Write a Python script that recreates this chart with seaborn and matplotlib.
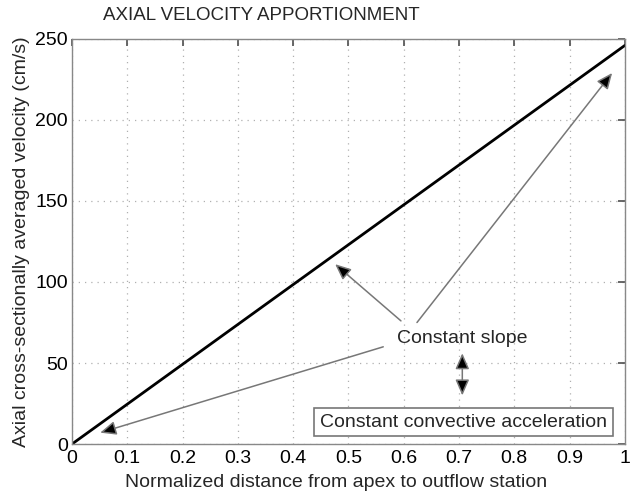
import matplotlib
matplotlib.use("Agg")
import matplotlib.pyplot as plt
import seaborn as sns
import pandas as pd

x_vals = [0.0, 1.0]
y_vals = [0.0, 246.0]
x_ticks = [0, 0.1, 0.2, 0.3, 0.4, 0.5, 0.6, 0.7, 0.8, 0.9, 1]
x_tick_labels = ["0", "0.1", "0.2", "0.3", "0.4", "0.5", "0.6", "0.7", "0.8", "0.9", "1"]
y_ticks = [0, 50, 100, 150, 200, 250]

sns.set_theme(style="white")
plt.rcParams['font.family'] = ['Liberation Sans', 'DejaVu Sans']

fig = plt.figure(figsize=(6.35, 4.97), dpi=100)
ax = fig.add_axes([0.1134, 0.1066, 0.8706, 0.815])

df = pd.DataFrame({"x": x_vals, "y": y_vals})
sns.lineplot(data=df, x="x", y="y", ax=ax, color="black", linewidth=2)

ax.set_xlim(0, 1)
ax.set_ylim(0, 250)
ax.set_xticks(x_ticks)
ax.set_xticklabels(x_tick_labels)
ax.set_yticks(y_ticks)
ax.grid(True, linestyle=(0, (1, 4)), color="#b0b0b0", linewidth=0.9)
for s in ax.spines.values():
    s.set_color("#888888")
    s.set_linewidth(1.0)
ax.tick_params(direction="in", length=5, color="#555555", top=True, right=True,
               labelsize=14, labelcolor="black")
ax.tick_params(axis="x", pad=4)
ax.tick_params(axis="y", pad=3)
ax.set_xlabel("Normalized distance from apex to outflow station", fontsize=14, labelpad=0)
ax.xaxis.set_label_coords(0.478, -0.075)
ax.set_ylabel("Axial cross-sectionally averaged velocity (cm/s)", fontsize=14, labelpad=4)
fig.text(261 / 635, 1 - 15 / 497, "AXIAL VELOCITY APPORTIONMENT", fontsize=13.5,
         ha="center", va="center")

arrow_kw = dict(arrowstyle="-|>,head_length=0.8,head_width=0.35", color="#777777",
                lw=1.1, shrinkA=0, shrinkB=0)
tips = [(0.051, 7), (0.476, 111), (0.977, 229)]
tails = [(0.563, 60), (0.595, 76), (0.624, 75)]
for tip, tail in zip(tips, tails):
    ann = ax.annotate("", xy=tip, xytext=tail, arrowprops=dict(arrow_kw))
    ann.arrow_patch.set_facecolor("black")

ax.text(0.705, 65, "Constant slope", fontsize=14, ha="center", va="center")

dbl = ax.annotate("", xy=(0.706, 30), xytext=(0.706, 56),
                  arrowprops=dict(arrowstyle="<|-|>,head_length=0.8,head_width=0.35",
                                  color="#777777", lw=1.1, shrinkA=0, shrinkB=0))
dbl.arrow_patch.set_facecolor("black")

ax.text(0.708, 13.5, "Constant convective acceleration", fontsize=14, ha="center", va="center",
        bbox=dict(boxstyle="square,pad=0.3", fc="white", ec="#777777", lw=1.2))

fig.savefig("out.png", dpi=100)
